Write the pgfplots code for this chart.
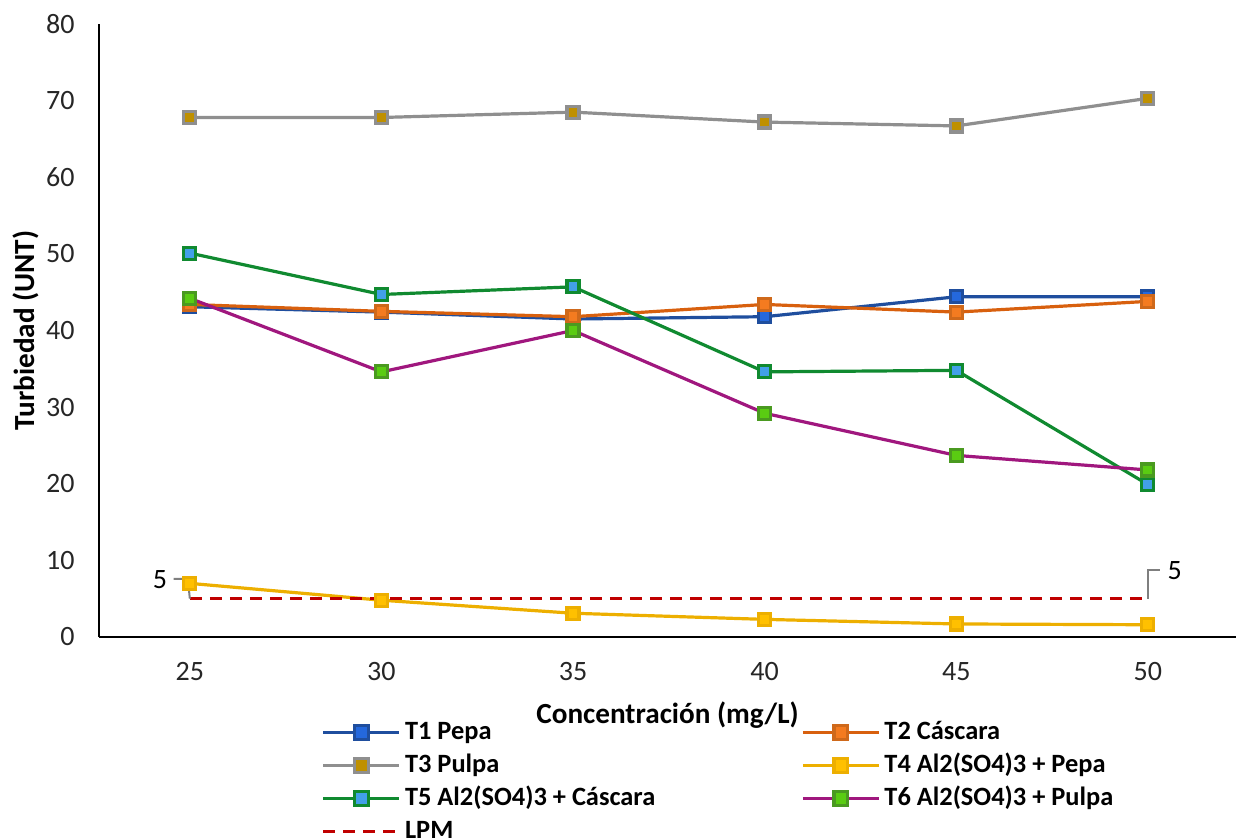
\documentclass[border=0pt]{standalone}
\usepackage{pgfplots}
\pgfplotsset{compat=1.18}
\usepackage{pgfplotstable}
\usepackage{fontspec}
\setmainfont{Carlito}

\definecolor{c1line}{HTML}{1F4E9E}
\definecolor{c1fill}{HTML}{2468DD}
\definecolor{c2line}{HTML}{D8600E}
\definecolor{c2fill}{HTML}{F47B20}
\definecolor{c3line}{HTML}{8F8F8F}
\definecolor{c3fill}{HTML}{BF9000}
\definecolor{c4line}{HTML}{EDAF00}
\definecolor{c4fill}{HTML}{FFC000}
\definecolor{c5line}{HTML}{108A30}
\definecolor{c5fill}{HTML}{42A0E8}
\definecolor{c6line}{HTML}{A0177E}
\definecolor{c6fill}{HTML}{5ACC12}
\definecolor{c6edge}{HTML}{4A9A20}
\definecolor{lpm}{HTML}{C00000}
\definecolor{leader}{HTML}{7F7F7F}

\pgfplotstableread{
x t1 t2 t3 t4 t5 t6 lpm
25 43.1 43.4 67.8 7.0 50.1 44.2 5
30 42.4 42.5 67.8 4.8 44.7 34.6 5
35 41.5 41.8 68.5 3.1 45.7 40.0 5
40 41.8 43.4 67.2 2.3 34.6 29.2 5
45 44.4 42.4 66.7 1.7 34.8 23.7 5
50 44.4 43.8 70.3 1.6 19.9 21.8 5
}\datatable

\begin{document}
\begin{tikzpicture}
\useasboundingbox (0,0) rectangle (618pt,420pt);
\begin{axis}[
  at={(49.5pt,101.5pt)}, anchor=south west,
  scale only axis, width=568.5pt, height=306.5pt,
  xmin=22.63, xmax=52.3, ymin=0, ymax=80,
  axis x line*=bottom, axis y line*=left,
  axis line style={line width=1pt, black, -},
  xtick={25,30,35,40,45,50}, ytick={0,10,...,80},
  major tick length=0pt,
  /pgf/number format/assume math mode=true,
  tick label style={font=\fontsize{14}{16}\selectfont, text=black!85},
  xticklabel style={anchor=north, inner sep=0pt, yshift=-12.5pt},
  yticklabel style={anchor=east, inner sep=0pt, xshift=-12pt},
  xlabel={Concentración (mg/L)},
  ylabel={Turbiedad (UNT)},
  label style={font=\bfseries\fontsize{14.6}{17}\selectfont},
  xlabel style={at={(axis description cs:0.5,-0.127)}, anchor=center},
  ylabel style={at={(axis description cs:-0.0645,0.5)}, anchor=center},
  clip=false,
  every axis plot/.append style={line width=1.6pt, mark=square*, mark size=3pt, mark options={line width=0.7pt, solid}},
  legend columns=2,
  legend cell align=left,
  legend image code/.code={\draw[mark repeat=2,mark phase=2,mark size=3.4pt] plot coordinates {(0pt,0pt) (19pt,0pt) (38pt,0pt)};},
  legend style={draw=none, fill=none, inner sep=0pt, outer sep=0pt,
    at={(axis description cs:0.196,-0.134)}, anchor=north west,
    font=\bfseries\fontsize{13.2}{15}\selectfont,
    row sep=3pt,
    nodes={inner xsep=2pt, inner ysep=0pt, text height=10pt, text depth=3.5pt},
    /tikz/every even column/.append style={column sep=71pt}},
]
\addplot[c1line, mark options={fill=c1fill, draw=c1line}] table[x=x,y=t1] {\datatable};
\addlegendentry{T1 Pepa}
\addplot[c2line, mark options={fill=c2fill, draw=c2fill!85!black}] table[x=x,y=t2] {\datatable};
\addlegendentry{T2 Cáscara}
\addplot[c3line, mark options={fill=c3fill, draw=c3line}] table[x=x,y=t3] {\datatable};
\addlegendentry{T3 Pulpa}
\addplot[c4line, mark options={fill=c4fill, draw=c4line}] table[x=x,y=t4] {\datatable};
\addlegendentry{T4 Al2(SO4)3 + Pepa}
\addplot[c5line, mark options={fill=c5fill, draw=c5line}] table[x=x,y=t5] {\datatable};
\addlegendentry{T5 Al2(SO4)3 + Cáscara}
\addplot[c6line, mark options={fill=c6fill, draw=c6edge}] table[x=x,y=t6] {\datatable};
\addlegendentry{T6 Al2(SO4)3 + Pulpa}
\addplot[lpm, line width=1.5pt, dash pattern=on 6pt off 4pt, mark=none] table[x=x,y=lpm] {\datatable};
\addlegendentry{LPM}
\draw[leader, line width=1pt] (axis cs:24.58,7.57) -- (axis cs:24.95,7.57) -- (axis cs:25,5);
\node[anchor=center, font=\fontsize{14}{16}\selectfont, text=black] at (axis cs:24.22,7.5) {5};
\draw[leader, line width=1pt] (axis cs:50,5) -- (axis cs:50,8.75) -- (axis cs:50.31,8.75);
\node[anchor=center, font=\fontsize{14}{16}\selectfont, text=black] at (axis cs:50.7,8.7) {5};
\end{axis}
\end{tikzpicture}
\end{document}
